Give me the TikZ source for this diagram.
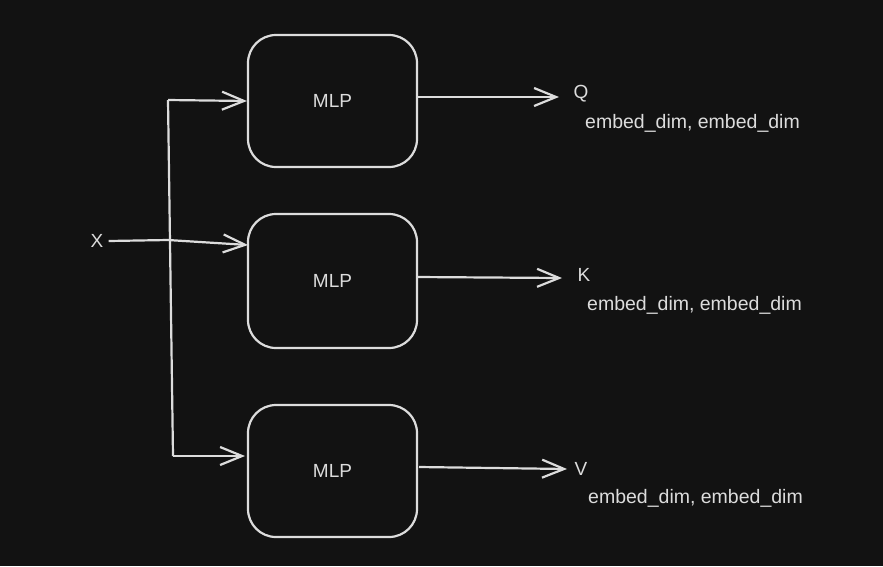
\documentclass[tikz,border=0pt]{standalone}
\usepackage{fontspec}
\setmainfont{Liberation Sans}
\usetikzlibrary{arrows.meta}
\definecolor{bg}{HTML}{121212}
\definecolor{ink}{HTML}{DCDCDC}
\begin{document}
\begin{tikzpicture}[x=1pt,y=-1pt,
  mlpbox/.style={draw=ink,line width=2.2pt,rounded corners=28pt,minimum width=169pt,minimum height=132pt,inner sep=0pt,text=ink,font=\fontsize{19}{22}\selectfont},
  lbl/.style={text=ink,inner sep=0pt,font=\fontsize{19}{22}\selectfont},
  dimlbl/.style={text=ink,inner sep=0pt,anchor=west,font=\fontsize{19.5}{22}\selectfont},
  conn/.style={draw=ink,line width=2.2pt,-{Straight Barb[length=22pt,width=18pt,line width=2.2pt]}},
  plain/.style={draw=ink,line width=2.2pt}]
\fill[bg] (0,0) rectangle (883,566);
\useasboundingbox (0,0) rectangle (883,566);
\node[mlpbox] (m1) at (332.5,101) {MLP};
\node[mlpbox,minimum height=134pt] (m2) at (332.5,281) {MLP};
\node[mlpbox] (m3) at (332.5,471) {MLP};
\node[lbl] (x) at (97,241) {X};
\node[lbl] (q) at (581,94) {Q};
\node[lbl] (k) at (584,275) {K};
\node[lbl] (v) at (581,469) {V};
\node[dimlbl] (d1) at (585,123) {embed\_dim, embed\_dim};
\node[dimlbl] (d2) at (587,305) {embed\_dim, embed\_dim};
\node[dimlbl] (d3) at (588,498) {embed\_dim, embed\_dim};
\coordinate (top) at (168,100);
\coordinate (bot) at (173,456);
\coordinate (bend) at (168,240);
\coordinate (in2) at (248,245);
\coordinate (in3) at (245,456);
\coordinate (o1s) at (417,97);
\coordinate (o1e) at (559,97);
\coordinate (o2s) at (417,277);
\coordinate (o2e) at (562,278);
\coordinate (o3s) at (419,467);
\coordinate (o3e) at (567,469);
\draw[plain] (top) -- (bot);
\draw[conn] (top) -- (m1.west);
\draw[conn] ([xshift=5pt]x.east) -- (bend) -- (in2);
\draw[conn] (bot) -- (in3);
\draw[conn] (o1s) -- (o1e);
\draw[conn] (o2s) -- (o2e);
\draw[conn] (o3s) -- (o3e);
\end{tikzpicture}
\end{document}
